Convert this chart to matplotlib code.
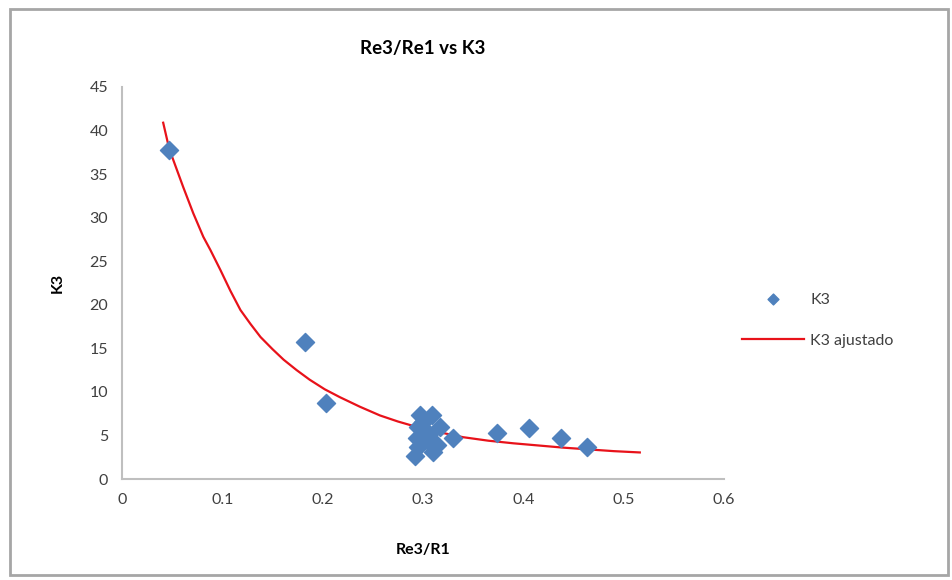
import matplotlib
matplotlib.use('Agg')
import matplotlib.pyplot as plt
from matplotlib.patches import Rectangle

# Puntos medidos (Re3/R1, K3)
x_k3 = [0.047, 0.182, 0.203, 0.297, 0.309, 0.317, 0.295, 0.294, 0.304, 0.295,
        0.292, 0.310, 0.314, 0.330, 0.374, 0.406, 0.437, 0.463, 0.300, 0.306]
y_k3 = [37.8, 15.7, 8.7, 7.3, 7.3, 6.0, 6.0, 4.7, 4.5, 3.7,
        2.6, 3.1, 3.9, 4.7, 5.3, 5.9, 4.7, 3.7, 6.6, 5.2]

# Curva ajustada
x_fit = [0.041, 0.047, 0.061, 0.071, 0.081, 0.088, 0.098, 0.108, 0.118, 0.128,
         0.138, 0.150, 0.161, 0.174, 0.187, 0.202, 0.217, 0.237, 0.257, 0.275,
         0.290, 0.315, 0.340, 0.365, 0.390, 0.415, 0.440, 0.465, 0.490, 0.516]
y_fit = [40.9, 37.9, 33.5, 30.5, 27.8, 26.3, 24.0, 21.6, 19.4, 17.8,
         16.3, 14.9, 13.7, 12.5, 11.4, 10.3, 9.4, 8.3, 7.3, 6.6,
         6.1, 5.4, 4.8, 4.4, 4.1, 3.85, 3.6, 3.4, 3.2, 3.05]

plt.rcParams['font.family'] = ['Lato', 'DejaVu Sans']

fig = plt.figure(figsize=(9.52, 5.80), dpi=100)
fig.patches.append(Rectangle((0.011, 0.009), 0.985, 0.975, transform=fig.transFigure,
                             fill=False, edgecolor='#a6a6a6', linewidth=2))

ax = fig.add_axes([0.1282, 0.1741, 0.6324, 0.6759])
ax.scatter(x_k3, y_k3, marker='D', s=85, color='#4F81BD', zorder=3, label='K3')
ax.plot(x_fit, y_fit, color='#E8121A', linewidth=1.6, zorder=2, label='K3 ajustado')

ax.set_xlim(0, 0.6)
ax.set_ylim(0, 45)
ax.set_xticks([0, 0.1, 0.2, 0.3, 0.4, 0.5, 0.6])
ax.set_xticklabels(['0', '0.1', '0.2', '0.3', '0.4', '0.5', '0.6'])
ax.set_yticks(range(0, 50, 5))
ax.tick_params(length=0, labelsize=11.5, colors='#404040', pad=10)
for s in ['top', 'right']:
    ax.spines[s].set_visible(False)
for s in ['left', 'bottom']:
    ax.spines[s].set_color('#bfbfbf')
    ax.spines[s].set_linewidth(1.5)

ax.set_title('Re3/Re1 vs K3', fontsize=13.5, fontweight='bold', pad=24)
ax.set_xlabel('Re3/R1', fontsize=11.5, fontweight='bold', labelpad=26)
ax.set_ylabel('K3', fontsize=11.5, fontweight='bold', labelpad=18)

ax.legend(loc='center left', bbox_to_anchor=(1.03, 0.405), frameon=False,
          fontsize=11.5, labelcolor='#404040', handlelength=3.9, handletextpad=0.35,
          labelspacing=1.7, markerscale=0.6, borderpad=0, borderaxespad=0)

fig.savefig('out.png', dpi=100)
